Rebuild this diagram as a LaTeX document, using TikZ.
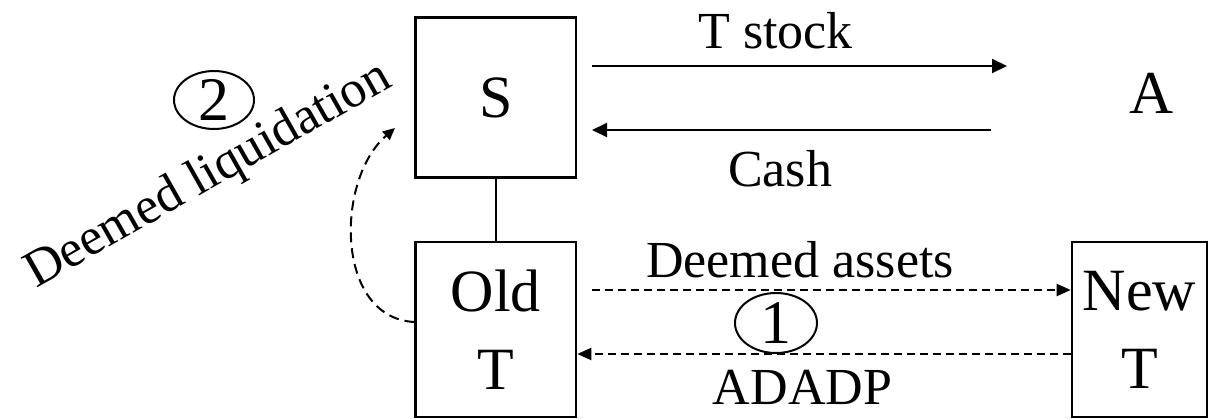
\documentclass[tikz,border=0pt]{standalone}
\usepackage{fontspec}
\setmainfont{Liberation Serif}
\usetikzlibrary{arrows.meta,shapes.geometric}
\begin{document}
\begin{tikzpicture}[x=1pt,y=-1pt,
  box/.style={draw,line width=2.6pt,inner sep=0pt,align=center,font=\fontsize{60}{78}\selectfont},
  lab/.style={font=\fontsize{52}{60}\selectfont,anchor=base,inner sep=0pt},
  big/.style={font=\fontsize{61}{70}\selectfont,anchor=base,inner sep=0pt},
  solidarrow/.style={line width=2pt,-{Triangle[length=15pt,width=14pt]}},
  dasharrow/.style={line width=2pt,dash pattern=on 8pt off 5pt,-{Triangle[length=14pt,width=12pt]}},
  curvearrow/.style={line width=2pt,dash pattern=on 10pt off 6pt,-{Triangle[length=12pt,width=11pt]}},
  numtext/.style={inner sep=0pt,font=\fontsize{62}{70}\selectfont},
  ring/.style={line width=2pt}]
\useasboundingbox (0,0) rectangle (1218,418);
% boxes
\node[box,minimum width=160.3pt,minimum height=160pt] (S) at (495.85,97.7) {\raisebox{-3.5pt}{S}};
\node[box,minimum width=160.3pt,minimum height=175pt] (oldT) at (495.85,329.5) {Old\\T};
\node[box,minimum width=135pt,minimum height=175pt] (newT) at (1139.5,329.5) {New\\T};
\node[big] (A) at (1151.5,113) {A};
% S -- Old T
\draw[line width=2.6pt] (S.south) -- (oldT.north);
% solid arrows
\coordinate (ts1) at (592,66);
\coordinate (ts2) at (1007,66);
\coordinate (c1) at (991,130);
\coordinate (c2) at (592,130);
\draw[solidarrow] (ts1) -- (ts2);
\draw[solidarrow] (c1) -- (c2);
% dashed arrows
\coordinate (da1) at (592,290);
\coordinate (ad) at (0,354);
\draw[dasharrow] (da1) -- (da1 -| newT.west);
\draw[dasharrow] (ad -| newT.west) -- (ad -| oldT.east);
% labels
\node[lab] (tstock) at (775.5,48) {T stock};
\node[lab] (cash) at (780,186) {Cash};
\node[lab] (dassets) at (800,277) {Deemed assets};
\node[lab] (adadp) at (802.5,404) {ADADP};
\node[numtext] (one) at (776,323) {1};
\draw[ring] (one.center) ellipse [x radius=41pt, y radius=30pt];
\node[numtext] (two) at (214,100) {2};
\draw[ring] (two.center) ellipse [x radius=40pt, y radius=29pt];
\node[lab,rotate=29.6] (liq) at (215,187) {Deemed liquidation};
% curved dashed arrow
\coordinate (lq) at (395,128);
\draw[curvearrow] ([yshift=7.5pt]oldT.west) .. controls (335,318) and (335,180) .. (lq);
\end{tikzpicture}
\end{document}
